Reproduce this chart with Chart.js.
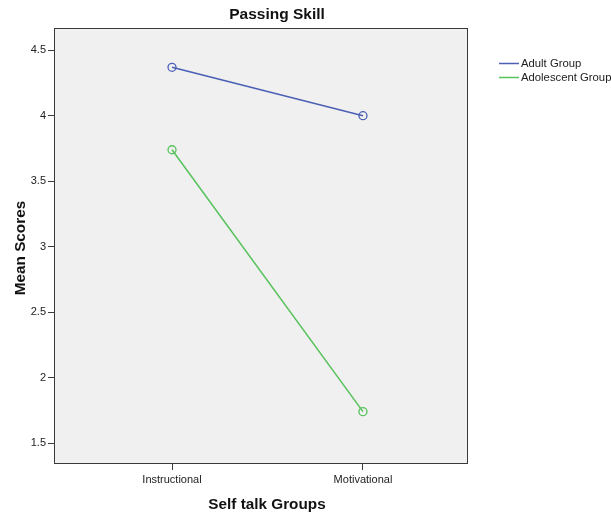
<!DOCTYPE html>
<html>
<head>
<meta charset="utf-8">
<script src="https://cdn.jsdelivr.net/npm/chart.js@4.4.1/dist/chart.umd.min.js"></script>
<style>
  html, body { margin: 0; padding: 0; background: #ffffff; }
  #wrap { width: 611px; height: 516px; }
</style>
</head>
<body>
<div id="wrap"><canvas id="chart"></canvas></div>
<script>
// Passing Skill - mean scores by self talk group

const categories = ['Instructional', 'Motivational'];
const categoryPos = [1, 2];
const adultScores = [4.37, 4.0];
const adolescentScores = [3.74, 1.74];
const yTicks = [1.5, 2, 2.5, 3, 3.5, 4, 4.5];

const colors = {
    adult: '#4a5fb5',
    adolescent: '#55c25a',
    plotBg: '#f0f0f0',
    frame: '#3a3a3a',
    text: '#222222'
};

const fontFamily = '"Liberation Sans", Arial, sans-serif';

// Grey plot area with a dark frame, like SPSS output
const plotFrame = {
    id: 'plotFrame',
    beforeDatasetsDraw(chart) {
        const { ctx, chartArea: a } = chart;
        ctx.save();
        ctx.fillStyle = colors.plotBg;
        ctx.fillRect(a.left, a.top, a.right - a.left, a.bottom - a.top);
        ctx.strokeStyle = colors.frame;
        ctx.lineWidth = 1;
        ctx.strokeRect(a.left + 0.5, a.top + 0.5, a.right - a.left - 1, a.bottom - a.top - 1);
        ctx.restore();
    }
};

// Titles placed where SPSS puts them (slightly off the plot centre)
const spssTitles = {
    id: 'spssTitles',
    afterDraw(chart) {
        const { ctx } = chart;
        ctx.save();
        ctx.fillStyle = '#111111';
        ctx.textAlign = 'center';
        ctx.textBaseline = 'alphabetic';
        ctx.font = 'bold 15.5px ' + fontFamily;
        ctx.fillText('Passing Skill', 277, 19);
        ctx.font = 'bold 15.3px ' + fontFamily;
        ctx.fillText('Self talk Groups', 267, 509);
        ctx.translate(25, 248);
        ctx.rotate(-Math.PI / 2);
        ctx.fillText('Mean Scores', 0, 0);
        ctx.restore();
    }
};

// Simple legend to the right of the plot
const sideLegend = {
    id: 'sideLegend',
    afterDraw(chart) {
        const { ctx, chartArea: a } = chart;
        ctx.save();
        ctx.font = '11.3px ' + fontFamily;
        ctx.textBaseline = 'middle';
        chart.data.datasets.forEach((ds, i) => {
            const y = a.top + 35.5 + i * 14;
            const x = a.right + 31;
            ctx.strokeStyle = ds.borderColor;
            ctx.lineWidth = 1.5;
            ctx.beginPath();
            ctx.moveTo(x, y);
            ctx.lineTo(x + 20, y);
            ctx.stroke();
            ctx.fillStyle = colors.text;
            ctx.fillText(ds.label, x + 22, y);
        });
        ctx.restore();
    }
};

const ctx = document.getElementById('chart').getContext('2d');

new Chart(ctx, {
    type: 'line',
    data: {
        datasets: [
            {
                label: 'Adult Group',
                data: categoryPos.map((x, i) => ({ x: x, y: adultScores[i] })),
                borderColor: colors.adult,
                backgroundColor: 'transparent',
                borderWidth: 1.5,
                pointRadius: 4,
                pointBorderWidth: 1.3,
                pointBackgroundColor: 'transparent',
                pointBorderColor: colors.adult,
                tension: 0
            },
            {
                label: 'Adolescent Group',
                data: categoryPos.map((x, i) => ({ x: x, y: adolescentScores[i] })),
                borderColor: colors.adolescent,
                backgroundColor: 'transparent',
                borderWidth: 1.5,
                pointRadius: 4,
                pointBorderWidth: 1.3,
                pointBackgroundColor: 'transparent',
                pointBorderColor: colors.adolescent,
                tension: 0
            }
        ]
    },
    options: {
        responsive: true,
        maintainAspectRatio: false,
        animation: false,
        layout: {
            padding: { left: 0, right: 143, top: 28, bottom: 0 }
        },
        scales: {
            x: {
                type: 'linear',
                min: 0.382,
                max: 2.55,
                afterBuildTicks: function(scale) {
                    scale.ticks = categoryPos.map(v => ({ value: v }));
                },
                afterFit: function(scale) {
                    scale.height = 52;
                },
                ticks: {
                    color: colors.text,
                    font: { family: fontFamily, size: 11 },
                    padding: 3,
                    maxRotation: 0,
                    callback: function(value) {
                        const idx = categoryPos.indexOf(value);
                        return idx >= 0 ? categories[idx] : '';
                    }
                },
                grid: {
                    display: true,
                    drawOnChartArea: false,
                    drawTicks: true,
                    tickLength: 6,
                    color: colors.frame
                },
                border: { display: false },
                title: { display: false }
            },
            y: {
                type: 'linear',
                min: 1.34,
                max: 4.67,
                afterBuildTicks: function(scale) {
                    scale.ticks = yTicks.map(v => ({ value: v }));
                },
                afterFit: function(scale) {
                    scale.width = 54;
                },
                ticks: {
                    color: colors.text,
                    font: { family: fontFamily, size: 11 },
                    padding: 2,
                    callback: function(value) {
                        return String(value);
                    }
                },
                grid: {
                    display: true,
                    drawOnChartArea: false,
                    drawTicks: true,
                    tickLength: 6,
                    color: colors.frame
                },
                border: { display: false },
                title: { display: false }
            }
        },
        plugins: {
            legend: { display: false },
            tooltip: { enabled: false },
            title: { display: false }
        }
    },
    plugins: [plotFrame, spssTitles, sideLegend]
});
</script>
</body>
</html>
